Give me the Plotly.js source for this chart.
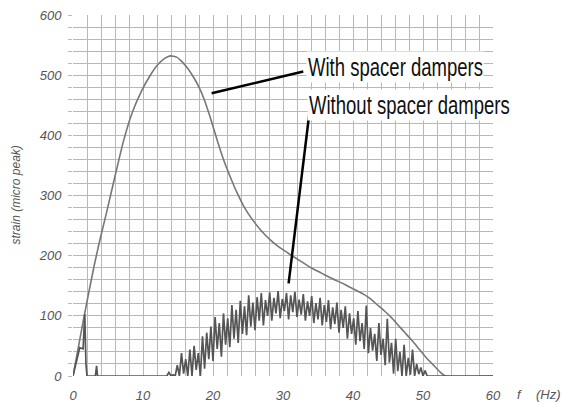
<!DOCTYPE html>
<html>
<head>
<meta charset="utf-8">
<script src="https://cdn.plot.ly/plotly-3.0.1.min.js"></script>
<style>html,body{margin:0;padding:0;background:#fff;}#chart{width:562px;height:402px;}</style>
</head>
<body>
<div id="chart"></div>
<script>
// With spacer dampers (smooth curve)
const withF = [0, 1.6, 3.0, 3.84, 4.8, 6.0, 7.2, 8.4, 9.8, 11.0, 12.0, 13.0, 13.9, 14.8, 15.6, 16.4, 17.2, 18.0, 18.8, 19.6, 20.6, 21.5, 22.5, 23.5, 24.4, 25.5, 26.5, 27.5, 28.5, 29.7, 31, 32.5, 34, 35.5, 37, 38.5, 39.5, 40.5, 41.5, 42.5, 43.5, 44.5, 45.5, 46.5, 47.5, 48.5, 49.5, 50.5, 51.5, 52.5, 53.2, 60];
const withV = [0, 100, 182, 226, 272, 332, 390, 436, 474, 499, 516, 527, 532, 530, 522, 511, 497, 480, 458, 430, 392, 360, 330, 303, 282, 262, 247, 234, 223, 212, 202, 191, 180, 171, 162, 154, 148, 142, 136, 128, 118, 108, 97, 84, 71, 58, 44, 30, 18, 6, 0, 0];

// Without spacer dampers (noisy response)
const withoutF = [0, 0.4, 0.96, 1.44, 1.68, 1.85, 2.0, 3.2, 3.37, 3.5, 13.4,
  13.7, 14.0, 14.3, 14.6, 14.9, 15.2, 15.5, 15.8, 16.1, 16.4, 16.7, 17.0, 17.3, 17.6, 17.9, 18.2, 18.5, 18.8, 19.1, 19.4,
  19.7, 20.0, 20.3, 20.6, 20.9, 21.2, 21.5, 21.8, 22.1, 22.4, 22.7, 23.0, 23.3, 23.6, 23.9, 24.2, 24.5, 24.8, 25.1, 25.4,
  25.7, 26.0, 26.3, 26.6, 26.9, 27.2, 27.5, 27.8, 28.1, 28.4, 28.7, 29.0, 29.3, 29.6, 29.9, 30.2, 30.5, 30.8, 31.1, 31.4,
  31.7, 32.0, 32.3, 32.6, 32.9, 33.2, 33.5, 33.8, 34.1, 34.4, 34.7, 35.0, 35.3, 35.6, 35.9, 36.2, 36.5, 36.8, 37.1, 37.4,
  37.7, 38.0, 38.3, 38.6, 38.9, 39.2, 39.5, 39.8, 40.1, 40.4, 40.7, 41.0, 41.3, 41.6, 41.9, 42.2, 42.5, 42.8, 43.1, 43.4,
  43.7, 44.0, 44.3, 44.6, 44.9, 45.2, 45.5, 45.8, 46.1, 46.4, 46.7, 47.0, 47.3, 47.6, 47.9, 48.2, 48.5, 48.8, 49.1, 49.4,
  49.7, 50.0, 50.3, 50.6, 53, 60];
const withoutV = [0, 20, 47, 45, 103, 20, 0, 0, 17, 0, 0,
  6, 0, 2, 0, 18, 0, 38, 4, 28, 0, 44, 0, 50, 10, 38, 0, 66, 12, 72, 28,
  82, 25, 98, 45, 88, 32, 104, 52, 96, 48, 118, 62, 110, 55, 125, 70, 116, 68, 134, 82,
  122, 76, 131, 92, 138, 84, 126, 100, 139, 92, 130, 104, 141, 96, 128, 108, 138, 94, 134, 106,
  140, 98, 127, 102, 136, 92, 124, 100, 133, 88, 121, 94, 130, 84, 118, 90, 126, 78, 114, 86,
  122, 72, 110, 80, 116, 62, 104, 70, 96, 52, 108, 58, 88, 45, 117, 38, 80, 42, 70, 25,
  88, 35, 62, 18, 95, 22, 55, 4, 62, 8, 40, 0, 52, 0, 30, 2, 44, 0, 20, 3,
  14, 0, 9, 0, 0, 0];

const xTicks = [0, 10, 20, 30, 40, 50, 60];
const yTicks = [0, 100, 200, 300, 400, 500, 600];

const tickFont = {family: 'Liberation Sans, Arial, sans-serif', size: 13, color: '#555', style: 'italic'};
const noteFont = {family: 'Liberation Sans, Arial, sans-serif', size: 25, color: '#111'};
const noteScale = 0.741;

const traces = [
  {x: withF, y: withV, type: 'scatter', mode: 'lines', line: {color: '#777', width: 1.6, shape: 'spline', smoothing: 0.5}, hoverinfo: 'skip'},
  {x: withoutF, y: withoutV, type: 'scatter', mode: 'lines', line: {color: '#555', width: 1.7}, hoverinfo: 'skip'}
];

const layout = {
  width: 562, height: 402,
  margin: {l: 73, r: 69, t: 15, b: 26},
  paper_bgcolor: '#fff', plot_bgcolor: '#fff',
  showlegend: false,
  xaxis: {
    range: [0, 60], tickvals: xTicks, ticktext: xTicks.map(String),
    showgrid: true, gridcolor: '#b8b8b8', gridwidth: 1,
    zeroline: false, showline: false, ticks: '', tickfont: tickFont, ticklabelstandoff: 10,
    minor: {dtick: 2, showgrid: true, gridcolor: '#b8b8b8', gridwidth: 1}
  },
  yaxis: {
    range: [0, 600], tickvals: yTicks, ticktext: yTicks.map(String),
    showgrid: true, gridcolor: '#b8b8b8', gridwidth: 1,
    zeroline: false, showline: false, ticks: 'outside', ticklen: 4, tickcolor: '#b8b8b8',
    tickfont: tickFont, ticklabelstandoff: 4,
    minor: {dtick: 20, showgrid: true, gridcolor: '#b8b8b8', gridwidth: 1, ticks: 'outside', ticklen: 4, tickcolor: '#b8b8b8'}
  },
  shapes: [
    {type: 'line', xref: 'x', yref: 'y', x0: 19.8, y0: 470, x1: 32.9, y1: 506, line: {color: '#000', width: 2.5}},
    {type: 'line', xref: 'x', yref: 'y', x0: 33.8, y0: 440, x1: 30.8, y1: 154, line: {color: '#000', width: 2.5}}
  ],
  annotations: [
    {text: 'With spacer dampers', xref: 'x', yref: 'y', x: 33.3, y: 513, xanchor: 'left', yanchor: 'middle', showarrow: false, font: noteFont, bgcolor: '#fff', borderpad: 1},
    {text: 'Without spacer dampers', xref: 'x', yref: 'y', x: 33.4, y: 450, xanchor: 'left', yanchor: 'middle', showarrow: false, font: noteFont, bgcolor: '#fff', borderpad: 1},
    {text: 'strain (micro peak)', xref: 'paper', yref: 'paper', x: -0.138, y: 0.5, xanchor: 'center', yanchor: 'middle', textangle: -90, showarrow: false, font: {family: 'Liberation Sans, Arial, sans-serif', size: 12, color: '#555', style: 'italic'}},
    {text: 'f', xref: 'paper', yref: 'paper', x: 1.062, y: -0.05, xanchor: 'center', yanchor: 'middle', showarrow: false, font: tickFont},
    {text: '(Hz)', xref: 'paper', yref: 'paper', x: 1.131, y: -0.05, xanchor: 'center', yanchor: 'middle', showarrow: false, font: tickFont}
  ]
};

Plotly.newPlot('chart', traces, layout, {staticPlot: true, displayModeBar: false}).then(function () {
  // the reference uses a condensed face: narrow the two callout labels about their left edge
  const groups = document.querySelectorAll('#chart g.annotation');
  [0, 1].forEach(function (i) {
    const g = groups[i];
    if (!g) return;
    g.querySelectorAll('text.annotation-text, rect.bg').forEach(function (el) {
      const bb = el.getBBox();
      el.setAttribute('transform', 'translate(' + (bb.x * (1 - noteScale)) + ',0) scale(' + noteScale + ',1)');
    });
  });
});
</script>
</body>
</html>
